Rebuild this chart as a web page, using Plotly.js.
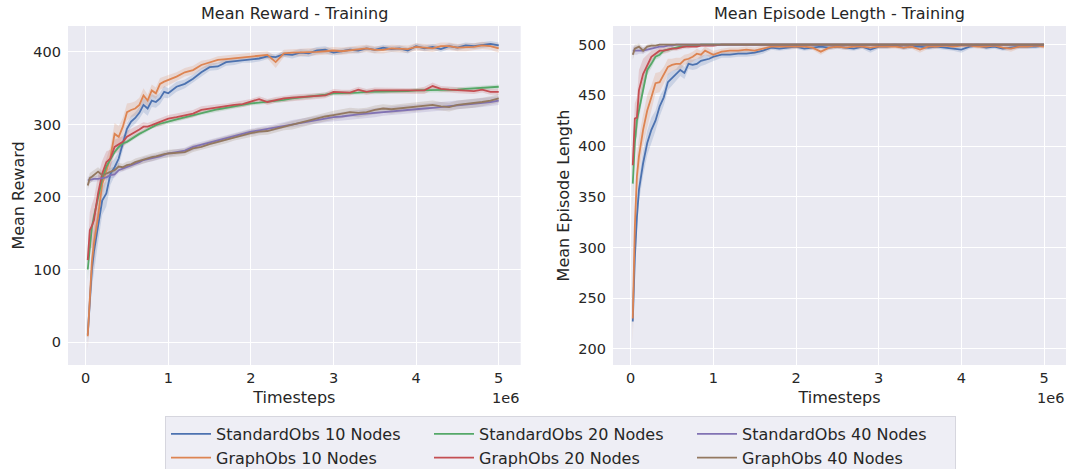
<!DOCTYPE html>
<html>
<head>
<meta charset="utf-8">
<script src="https://cdn.plot.ly/plotly-3.0.1.min.js"></script>
<style>html,body{margin:0;padding:0;background:#fff;}#chart{width:1068px;height:469px;}</style>
</head>
<body>
<div id="chart"></div>
<script>
// Timesteps (shared x for every series)
const timesteps = [25000, 50000, 75000, 100000, 150000, 200000, 250000, 300000, 350000, 400000, 450000,
  500000, 550000, 600000, 650000, 700000, 750000, 800000, 850000, 900000, 950000, 1000000,
  1100000, 1200000, 1300000, 1400000, 1500000, 1600000, 1700000, 1800000, 1900000, 2000000,
  2100000, 2200000, 2300000, 2400000, 2500000, 2600000, 2700000, 2800000, 2900000, 3000000,
  3100000, 3200000, 3300000, 3400000, 3500000, 3600000, 3700000, 3800000, 3900000, 4000000,
  4100000, 4200000, 4300000, 4400000, 4500000, 4600000, 4700000, 4800000, 4900000, 5000000];

const seriesNames = ["StandardObs 10 Nodes", "GraphObs 10 Nodes", "StandardObs 20 Nodes",
  "GraphObs 20 Nodes", "StandardObs 40 Nodes", "GraphObs 40 Nodes"];

// ---- Mean Reward (left panel) ----
const rewardStd10 = [10, 60, 100, 125, 159, 195, 205, 232, 241, 253, 274, 294, 304, 309, 316, 327, 322, 333, 331, 336, 345, 343,
  352, 356, 363, 372, 379, 380, 386, 387, 389, 389,
  391, 394, 393, 397, 396, 399, 398, 402, 403, 399,
  401, 403, 402, 405, 403, 406, 404, 405, 402, 408,
  405, 407, 404, 408, 406, 409, 408, 410, 411, 409];
const rewardGraph10 = [8, 65, 110, 136, 173, 218, 237, 255, 287, 283, 297, 317, 320, 322, 327, 340, 333, 347, 343, 356, 359, 361,
  366, 372, 375, 382, 385, 389, 390, 391, 393, 394,
  395, 396, 386, 398, 399, 399, 400, 400, 401, 402,
  401, 402, 404, 405, 403, 403, 405, 405, 404, 407,
  406, 405, 408, 408, 406, 406, 407, 409, 408, 405];
const rewardStd20 = [100, 135, 158, 173, 200, 225, 242, 253, 262, 269, 274, 276, 280, 283, 287, 290, 293, 297, 299, 301, 303, 304,
  307, 310, 313, 316, 318, 321, 323, 325, 327, 329,
  330, 331, 333, 334, 336, 337, 339, 340, 341, 343,
  343, 344, 344, 345, 345, 345, 346, 346, 346, 347,
  347, 347, 347, 348, 348, 349, 350, 351, 352, 352];
const rewardGraph20 = [113, 154, 160, 168, 205, 232, 248, 253, 269, 272, 276, 283, 286, 290, 293, 297, 297, 299, 301, 303, 305, 308,
  310, 313, 315, 320, 322, 324, 325, 327, 328, 331,
  335, 331, 334, 336, 337, 338, 338, 339, 340, 345,
  344, 344, 348, 345, 347, 347, 346, 347, 346, 346,
  347, 353, 349, 348, 347, 346, 346, 348, 345, 345];
const rewardStd40 = [223, 224, 225, 225, 225, 226, 227, 230, 231, 237, 239, 241, 243, 246, 248, 251, 252, 253, 254, 256, 258, 260,
  262, 264, 269, 272, 276, 278, 282, 285, 287, 290,
  292, 294, 296, 299, 301, 303, 305, 306, 308, 310,
  311, 313, 314, 315, 316, 318, 319, 320, 321, 322,
  322, 323, 324, 325, 327, 328, 329, 330, 331, 333];
const rewardGraph40 = [216, 226, 228, 230, 235, 230, 232, 235, 237, 242, 241, 244, 245, 248, 250, 251, 253, 255, 256, 258, 259, 260,
  261, 262, 267, 269, 273, 276, 279, 283, 285, 288,
  290, 291, 294, 297, 299, 302, 305, 308, 311, 313,
  315, 317, 316, 317, 320, 322, 321, 322, 324, 324,
  326, 327, 325, 324, 327, 328, 329, 331, 333, 336];

// half-width of the shaded confidence bands (reward)
const rewardBandStd10 = [12, 25, 25, 25, 22, 20, 18, 15, 12, 10, 10, 8, 8, 8, 8, 10, 10, 9, 8, 8, 8, 7,
  7, 6, 6, 6, 5, 5, 5, 5, 4, 4, 4, 4, 4, 4, 5, 5, 5, 5, 5, 4, 4, 4, 4, 4, 4, 4, 4, 4, 4, 4, 4, 4, 4, 4, 4, 4, 4, 4, 4, 4];
const rewardBandGraph10 = [20, 25, 25, 25, 20, 18, 15, 15, 15, 15, 12, 12, 10, 10, 10, 10, 8, 8, 8, 8, 7, 7,
  6, 6, 6, 6, 5, 5, 5, 5, 5, 5, 5, 5, 8, 5, 5, 5, 5, 5, 5, 5, 5, 5, 5, 5, 5, 5, 5, 5, 5, 5, 5, 5, 5, 5, 5, 5, 5, 5, 5, 6];
const rewardBandStd20 = [15, 12, 10, 8, 6, 5, 4, 4, 3, 3, 3, 3, 3, 3, 3, 3, 3, 3, 3, 3, 3, 3,
  3, 3, 3, 3, 3, 3, 3, 3, 3, 3, 3, 3, 3, 3, 3, 3, 3, 3, 3, 3, 3, 3, 3, 3, 3, 3, 3, 3, 3, 3, 3, 3, 3, 3, 3, 3, 3, 3, 3, 3];
const rewardBandGraph20 = [15, 25, 30, 30, 25, 18, 15, 12, 10, 10, 8, 8, 8, 6, 6, 6, 5, 5, 5, 5, 5, 5,
  5, 5, 5, 5, 5, 4, 4, 4, 4, 4, 4, 4, 4, 4, 4, 4, 4, 4, 4, 4, 4, 4, 4, 4, 4, 4, 4, 4, 4, 4, 5, 5, 4, 4, 4, 4, 4, 4, 4, 4];
const rewardBandStd40 = [5, 5, 4, 4, 4, 4, 4, 4, 4, 4, 4, 4, 4, 4, 4, 4, 4, 4, 4, 4, 4, 4,
  4, 4, 4, 4, 4, 4, 4, 4, 4, 4, 4, 4, 4, 4, 5, 5, 5, 5, 5, 5, 6, 6, 6, 6, 6, 6, 6, 6, 6, 6, 6, 6, 6, 6, 6, 6, 6, 6, 6, 6];
const rewardBandGraph40 = [6, 7, 7, 7, 6, 6, 6, 5, 5, 5, 5, 5, 5, 5, 5, 5, 5, 5, 5, 5, 5, 5,
  5, 5, 5, 5, 5, 5, 5, 5, 5, 5, 5, 5, 5, 5, 6, 6, 6, 6, 6, 6, 6, 6, 6, 6, 6, 6, 6, 6, 6, 6, 6, 6, 6, 6, 6, 6, 6, 6, 6, 6];

// ---- Mean Episode Length (right panel) ----
const lengthStd10 = [227, 290, 330, 357, 383, 403, 416, 425, 439, 448, 463, 467, 470, 475, 472, 481, 480, 481, 484, 485, 486, 488,
  490, 490, 491, 491, 492, 494, 497, 496, 497, 498,
  496, 497, 498, 497, 498, 497, 496, 498, 495, 498,
  498, 499, 497, 498, 498, 497, 498, 497, 496, 495,
  498, 499, 497, 498, 496, 497, 498, 498, 498, 499];
const lengthGraph10 = [230, 320, 370, 390, 416, 435, 448, 462, 463, 470, 478, 480, 481, 481, 485, 486, 488, 491, 490, 494, 492, 490,
  493, 494, 494, 495, 494, 496, 498, 498, 498, 498,
  498, 497, 493, 497, 498, 497, 498, 498, 497, 498,
  498, 498, 497, 498, 495, 498, 498, 499, 498, 499,
  499, 498, 498, 499, 497, 496, 498, 498, 499, 498];
const lengthStd20 = [363, 403, 425, 435, 458, 475, 481, 488, 490, 494, 495, 496, 497, 498, 498, 499, 499, 499, 500, 500, 500, 500,
  500, 500, 500, 500, 500, 500, 500, 500, 500, 500,
  500, 500, 500, 500, 500, 500, 500, 500, 500, 500,
  500, 500, 500, 500, 500, 500, 500, 500, 500, 500,
  500, 500, 500, 500, 500, 500, 500, 500, 500, 500];
const lengthGraph20 = [381, 427, 428, 455, 471, 480, 488, 491, 494, 494, 495, 496, 496, 497, 498, 498, 498, 498, 499, 499, 499, 499,
  500, 500, 500, 500, 500, 500, 500, 500, 500, 500,
  500, 500, 500, 500, 500, 500, 500, 500, 500, 500,
  500, 500, 500, 500, 500, 500, 500, 500, 500, 500,
  500, 500, 500, 500, 500, 500, 500, 500, 500, 500];
const lengthStd40 = [494, 494, 494, 494, 494, 495, 496, 497, 498, 498, 499, 499, 500, 500, 500, 500, 500, 500, 500, 500, 500, 500,
  500, 500, 500, 500, 500, 500, 500, 500, 500, 500,
  500, 500, 500, 500, 500, 500, 500, 500, 500, 500,
  500, 500, 500, 500, 500, 500, 500, 500, 500, 500,
  500, 500, 500, 500, 500, 500, 500, 500, 500, 500];
const lengthGraph40 = [490, 496, 497, 498, 494, 498, 499, 499, 500, 500, 500, 500, 500, 500, 500, 500, 500, 500, 500, 500, 500, 500,
  500, 500, 500, 500, 500, 500, 500, 500, 500, 500,
  500, 500, 500, 500, 500, 500, 500, 500, 500, 500,
  500, 500, 500, 500, 500, 500, 500, 500, 500, 500,
  500, 500, 500, 500, 500, 500, 500, 500, 500, 500];

const lengthBandStd10 = [8, 15, 15, 12, 12, 12, 12, 10, 10, 8, 8, 7, 6, 6, 6, 5, 5, 5, 5, 5, 4, 4,
  3, 3, 3, 3, 3, 3, 2, 2, 2, 2, 2, 2, 2, 2, 2, 2, 2, 2, 3, 2, 2, 2, 2, 2, 2, 2, 2, 2, 2, 3, 2, 2, 2, 2, 2, 2, 2, 2, 2, 2];
const lengthBandGraph10 = [25, 20, 20, 18, 15, 15, 12, 10, 10, 8, 8, 6, 6, 6, 5, 5, 5, 5, 4, 4, 4, 4,
  3, 3, 3, 3, 3, 3, 2, 2, 2, 2, 2, 2, 3, 2, 2, 2, 2, 2, 2, 2, 2, 2, 2, 2, 3, 2, 2, 2, 2, 2, 2, 2, 2, 2, 2, 3, 2, 2, 2, 2];
const lengthBandStd20 = [22, 12, 10, 10, 8, 5, 4, 3, 3, 2, 2, 2, 1, 1, 1, 1, 1, 1, 1, 1, 1, 1,
  1, 1, 1, 1, 1, 1, 1, 1, 1, 1, 1, 1, 1, 1, 1, 1, 1, 1, 1, 1, 1, 1, 1, 1, 1, 1, 1, 1, 1, 1, 1, 1, 1, 1, 1, 1, 1, 1, 1, 1];
const lengthBandGraph20 = [10, 15, 20, 20, 15, 10, 6, 4, 3, 3, 3, 2, 2, 2, 2, 2, 1, 1, 1, 1, 1, 1,
  1, 1, 1, 1, 1, 1, 1, 1, 1, 1, 1, 1, 1, 1, 1, 1, 1, 1, 1, 1, 1, 1, 1, 1, 1, 1, 1, 1, 1, 1, 1, 1, 1, 1, 1, 1, 1, 1, 1, 1];
const lengthBandStd40 = [4, 4, 4, 3, 3, 2, 2, 2, 2, 1, 1, 1, 1, 1, 1, 1, 1, 1, 1, 1, 1, 1,
  1, 1, 1, 1, 1, 1, 1, 1, 1, 1, 1, 1, 1, 1, 1, 1, 1, 1, 1, 1, 1, 1, 1, 1, 1, 1, 1, 1, 1, 1, 1, 1, 1, 1, 1, 1, 1, 1, 1, 1];
const lengthBandGraph40 = [5, 4, 3, 3, 3, 2, 2, 1, 1, 1, 1, 1, 1, 1, 1, 1, 1, 1, 1, 1, 1, 1,
  1, 1, 1, 1, 1, 1, 1, 1, 1, 1, 1, 1, 1, 1, 1, 1, 1, 1, 1, 1, 1, 1, 1, 1, 1, 1, 1, 1, 1, 1, 1, 1, 1, 1, 1, 1, 1, 1, 1, 1];

const xTickVals = [0, 1000000, 2000000, 3000000, 4000000, 5000000];
const xTickText = ["0", "1", "2", "3", "4", "5"];
const rewardTicks = [0, 100, 200, 300, 400];
const lengthTicks = [200, 250, 300, 350, 400, 450, 500];

// seaborn "deep" palette
const colors = ["#4C72B0", "#DD8452", "#55A868", "#C44E52", "#8172B3", "#937860"];
// legend is filled column-wise (3 columns) in the original
const legendRanks = [1, 4, 2, 5, 3, 6];

const rewardSeries = [rewardStd10, rewardGraph10, rewardStd20, rewardGraph20, rewardStd40, rewardGraph40];
const rewardBands = [rewardBandStd10, rewardBandGraph10, rewardBandStd20, rewardBandGraph20, rewardBandStd40, rewardBandGraph40];
const lengthSeries = [lengthStd10, lengthGraph10, lengthStd20, lengthGraph20, lengthStd40, lengthGraph40];
const lengthBands = [lengthBandStd10, lengthBandGraph10, lengthBandStd20, lengthBandGraph20, lengthBandStd40, lengthBandGraph40];

function hexA(hex, a) {
  const r = parseInt(hex.slice(1, 3), 16), g = parseInt(hex.slice(3, 5), 16), b = parseInt(hex.slice(5, 7), 16);
  return `rgba(${r},${g},${b},${a})`;
}

const traces = [];
function addPanel(series, bands, xa, ya, showLegend) {
  series.forEach((vals, i) => {
    const upper = vals.map((v, k) => v + bands[i][k]);
    const lower = vals.map((v, k) => v - bands[i][k]);
    traces.push({
      type: "scatter", mode: "lines",
      x: timesteps.concat(timesteps.slice().reverse()),
      y: upper.concat(lower.slice().reverse()),
      fill: "toself", fillcolor: hexA(colors[i], 0.2),
      line: { width: 0, color: hexA(colors[i], 0) },
      hoverinfo: "skip", showlegend: false, xaxis: xa, yaxis: ya
    });
  });
  series.forEach((vals, i) => {
    traces.push({
      type: "scatter", mode: "lines", x: timesteps, y: vals,
      name: seriesNames[i], legendrank: legendRanks[i],
      line: { color: colors[i], width: 1.8 },
      showlegend: showLegend, xaxis: xa, yaxis: ya
    });
  });
}
addPanel(rewardSeries, rewardBands, "x", "y", true);
addPanel(lengthSeries, lengthBands, "x2", "y2", false);

const FONT = "DejaVu Sans, sans-serif";
const TXT = "#262626";
const axisBase = {
  showgrid: true, gridcolor: "#ffffff", gridwidth: 1, zeroline: false, showline: false,
  ticks: "", tickfont: { family: FONT, size: 14.5, color: TXT }
};

const layout = {
  width: 1068, height: 469,
  paper_bgcolor: "#ffffff", plot_bgcolor: "#EAEAF2",
  margin: { l: 68, r: 2, t: 26, b: 104 },
  font: { family: FONT, color: TXT },
  showlegend: true,
  xaxis: Object.assign({}, axisBase, {
    domain: [0, 0.4536], range: [-214000, 5266000], tickvals: xTickVals, ticktext: xTickText, anchor: "y",
    ticklabelstandoff: 2,
    title: { text: "Timesteps", font: { family: FONT, size: 16, color: TXT }, standoff: 7 }
  }),
  yaxis: Object.assign({}, axisBase, {
    range: [-31.7, 435.8], tickvals: rewardTicks, anchor: "x", ticklabelstandoff: 6,
    title: { text: "Mean Reward", font: { family: FONT, size: 16, color: TXT }, standoff: 4 }
  }),
  xaxis2: Object.assign({}, axisBase, {
    domain: [0.5461, 1], range: [-214000, 5266000], tickvals: xTickVals, ticktext: xTickText, anchor: "y2",
    ticklabelstandoff: 2,
    title: { text: "Timesteps", font: { family: FONT, size: 16, color: TXT }, standoff: 7 }
  }),
  yaxis2: Object.assign({}, axisBase, {
    range: [184.2, 518.3], tickvals: lengthTicks, anchor: "x2", ticklabelstandoff: 6,
    title: { text: "Mean Episode Length", font: { family: FONT, size: 16, color: TXT }, standoff: 4 }
  }),
  legend: {
    orientation: "h", xref: "paper", yref: "container",
    x: 0.0972, xanchor: "left", y: 0.1130, yanchor: "top",
    bgcolor: "rgba(234,234,242,0.8)", bordercolor: "#d6d6de", borderwidth: 1,
    font: { family: FONT, size: 16, color: TXT },
    entrywidth: 208, itemwidth: 40, traceorder: "normal", tracegroupgap: 0
  },
  annotations: [
    { text: "Mean Reward - Training", xref: "x domain", yref: "y domain", x: 0.5, y: 1, xanchor: "center", yanchor: "bottom",
      yshift: 1, showarrow: false, font: { family: FONT, size: 16, color: TXT } },
    { text: "Mean Episode Length - Training", xref: "x2 domain", yref: "y2 domain", x: 0.5, y: 1, xanchor: "center", yanchor: "bottom",
      yshift: 1, showarrow: false, font: { family: FONT, size: 16, color: TXT } },
    { text: "1e6", xref: "x domain", yref: "y domain", x: 1, y: 0, xanchor: "right", yanchor: "middle",
      yshift: -33, showarrow: false, font: { family: FONT, size: 14.5, color: TXT } },
    { text: "1e6", xref: "x2 domain", yref: "y2 domain", x: 1, y: 0, xanchor: "right", yanchor: "middle",
      yshift: -33, showarrow: false, font: { family: FONT, size: 14.5, color: TXT } }
  ]
};

Plotly.newPlot("chart", traces, layout, { displayModeBar: false, staticPlot: true });
</script>
</body>
</html>
